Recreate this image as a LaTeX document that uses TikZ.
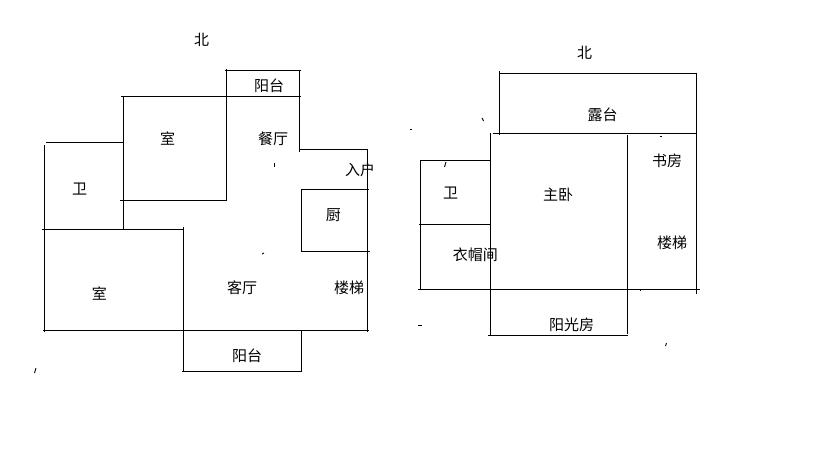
\documentclass[tikz,border=0pt]{standalone}
\usepackage{fontspec}
\setmainfont{Noto Sans CJK SC}
\begin{document}
\begin{tikzpicture}[
        x=1pt,
        y=-1pt,
        wall/.style={
            % The border
            line width = 1.15pt,
            draw = black
        },
        speck/.style={
            % The border
            line width = 0.9pt,
            draw = black
        },
        room/.style={
            % The color
            color = black,
            % No space around the text
            inner sep = 0pt,
            % Font
            font = \fontsize{15}{15}\selectfont
        },
    ]
        \useasboundingbox (0,0) rectangle (819,460);

        % Lower floor, walls
        \draw[wall] (225,70.5) -- (301,70.5);
        \draw[wall] (226.5,69) -- (226.5,200.5);
        \draw[wall] (299.5,70) -- (299.5,152);
        \draw[wall] (121,96.5) -- (301,96.5);
        \draw[wall] (123.5,96) -- (123.5,229);
        \draw[wall] (46,142.5) -- (123,142.5);
        \draw[wall] (44.5,145) -- (44.5,332);
        \draw[wall] (120,200.5) -- (226.5,200.5);
        \draw[wall] (299,149.5) -- (368,149.5);
        \draw[wall] (367.5,149) -- (367.5,332);
        \draw[wall] (301,189.5) -- (369,189.5);
        \draw[wall] (301.5,189) -- (301.5,252);
        \draw[wall] (301,251.5) -- (370,251.5);
        \draw[wall] (42,229.5) -- (183.5,229.5);
        \draw[wall] (183.5,227) -- (183.5,371.5);
        \draw[wall] (43,330.5) -- (369,330.5);
        \draw[wall] (301.5,330) -- (301.5,372);
        \draw[wall] (182,371.5) -- (302,371.5);

        % Upper floor, walls
        \draw[wall] (499,73.5) -- (697,73.5);
        \draw[wall] (499.5,71) -- (499.5,134.5);
        \draw[wall] (696.5,73) -- (696.5,294);
        \draw[wall] (493,133.5) -- (697,133.5);
        \draw[wall] (490.5,133) -- (490.5,335);
        \draw[wall] (627.5,135) -- (627.5,334);
        \draw[wall] (420,160.5) -- (490,160.5);
        \draw[wall] (420.5,160) -- (420.5,290);
        \draw[wall] (419,224.5) -- (490,224.5);
        \draw[wall] (418,289.5) -- (700,289.5);
        \draw[wall] (488,335.5) -- (627.5,335.5);

        % Stray marks
        \draw[speck] (274.5,163) -- (274.5,167);
        \draw[speck] (262,254) -- (264,253);
        \draw[speck] (34.5,373) -- (36,368);
        \draw[speck] (482,118) -- (483.5,121);
        \draw[speck] (410,129.5) -- (412,129.5);
        \draw[speck] (444.5,167) -- (446,162);
        \draw[speck] (660,136.5) -- (662,136.5);
        \draw[speck] (640.5,289) -- (640.5,291);
        \draw[speck] (418,325.5) -- (422,325.5);
        \draw[speck] (665.5,346) -- (666.5,343);

        % Lower floor, labels
        \node (north_a) [room] at (201.7,40) {北};
        \node (balcony_n) [room] at (269,85.7) {阳台};
        \node (bedroom_n) [room] at (167.7,138.7) {室};
        \node (dining) [room] at (273,138.3) {餐厅};
        \node (entry) [room] at (360,170) {入户};
        \node (bath_a) [room] at (79.7,189.3) {卫};
        \node (kitchen) [room] at (333.3,215) {厨};
        \node (living) [room] at (242,288) {客厅};
        \node (stairs_a) [room] at (349,288) {楼梯};
        \node (bedroom_s) [room] at (99.3,294) {室};
        \node (balcony_s) [room] at (247,355.3) {阳台};

        % Upper floor, labels
        \node (north_b) [room] at (584.7,52.7) {北};
        \node (terrace) [room] at (602.7,114.7) {露台};
        \node (study) [room] at (667,160.7) {书房};
        \node (bath_b) [room] at (450.7,193.3) {卫};
        \node (master) [room] at (558,195) {主卧};
        \node (closet) [room] at (475.3,254.7) {衣帽间};
        \node (stairs_b) [room] at (672,242.7) {楼梯};
        \node (sunroom) [room] at (571.7,324.7) {阳光房};

    \end{tikzpicture}
\end{document}
